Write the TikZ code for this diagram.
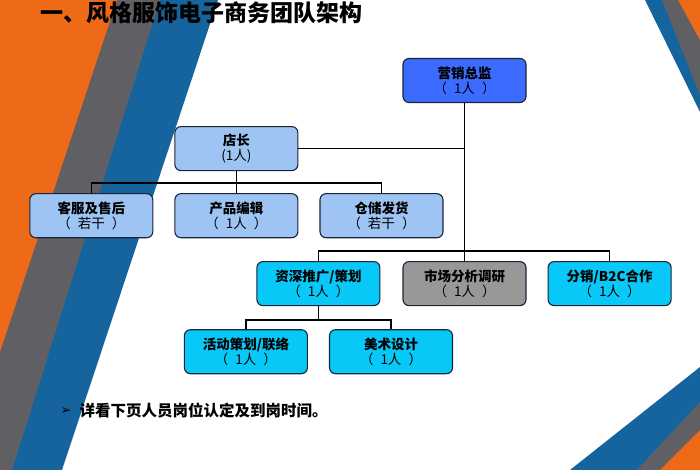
\documentclass[tikz,border=0pt]{standalone}
\usepackage{fontspec}
\setmainfont{Noto Sans CJK SC}
\newfontfamily\symfont{DejaVu Sans}
\usetikzlibrary{positioning}

\definecolor{stripeorange}{RGB}{238,106,24}
\definecolor{stripegrey}{RGB}{96,96,100}
\definecolor{stripeblue}{RGB}{22,100,158}
\definecolor{headblue}{RGB}{60,108,255}
\definecolor{shopblue}{RGB}{157,196,242}
\definecolor{teamcyan}{RGB}{8,200,248}
\definecolor{teamgrey}{RGB}{152,152,152}
\definecolor{rim}{RGB}{28,36,56}

% head count in wide brackets
\newcommand{\headcount}[1]{（\hspace{7pt}#1\hspace{7pt}）}

\begin{document}
\begin{tikzpicture}[
    x=1pt, y=-1pt,
    font=\fontsize{13.5}{15}\selectfont,
    box/.style={draw=rim, line width=1.1pt, rounded corners=6pt, align=center, minimum width=123pt, minimum height=44pt, inner sep=0pt},
    line/.style={line width=1.5pt},
  ]
    \useasboundingbox (0,0) rectangle (700,470);
    % background stripes
    \fill[white] (0,0) rectangle (700,470);
    \fill[stripeblue] (0,0) -- (218,0) -- (62,470) -- (0,470) -- cycle;
    \fill[stripegrey] (0,0) -- (160,0) -- (12,470) -- (0,470) -- cycle;
    \fill[stripeorange] (0,0) -- (117,0) -- (0,352) -- cycle;
    \fill[stripeblue] (645,0) -- (700,0) -- (700,112) -- cycle;
    \fill[stripegrey] (662,0) -- (700,0) -- (700,95) -- cycle;
    \fill[stripeorange] (678,0) -- (700,0) -- (700,40) -- cycle;
    \fill[stripeblue] (570,470) -- (700,367) -- (700,470) -- cycle;
    \fill[stripegrey] (637,470) -- (700,402) -- (700,470) -- cycle;
    \fill[stripeorange] (660,470) -- (700,430) -- (700,470) -- cycle;

    \node[anchor=base west, font=\fontsize{23}{23}\selectfont\bfseries] (title) at (37,22) {一、风格服饰电子商务团队架构};

    \node[box, fill=headblue] (dir) at (464.5,80.5) {\textbf{营销总监}\\\headcount{1人}};
    \node[box, fill=shopblue, below left=23pt and 104pt of dir] (shop) {\textbf{店长}\\(1人)};
    \node[box, fill=shopblue, below=22pt of shop] (prod) {\textbf{产品编辑}\\\headcount{1人}};
    \node[box, fill=shopblue, left=21pt of prod] (svc) {\textbf{客服及售后}\\\headcount{若干}};
    \node[box, fill=shopblue, right=21pt of prod] (ware) {\textbf{仓储发货}\\\headcount{若干}};
    \node[box, fill=teamgrey, below=158pt of dir] (mkt) {\textbf{市场分析调研}\\\headcount{1人}};
    \node[box, fill=teamcyan, left=22pt of mkt] (promo) {\textbf{资深推广/策划}\\\headcount{1人}};
    \node[box, fill=teamcyan, right=21pt of mkt] (dist) {\textbf{分销/B2C合作}\\\headcount{1人}};
    \node[box, fill=teamcyan, below=23pt of promo, xshift=-72.5pt] (act) {\textbf{活动策划/联络}\\\headcount{1人}};
    \node[box, fill=teamcyan, right=21pt of act] (art) {\textbf{美术设计}\\\headcount{1人}};

    \draw[line] (dir.south) -- (dir.south |- mkt.north);
    \draw[line] (shop.east) -- (shop.east -| dir.south);
    \draw[line] (shop.south) -- (prod.north);
    \draw[line] (shop.south) ++(0,12) -| (svc.north);
    \draw[line] (shop.south) ++(0,12) -| (ware.north);
    \draw[line] (promo.north) -- ++(0,-10) -| (dist.north);
    \draw[line] (promo.south) -- ++(0,14) -| (act.north);
    \draw[line] (promo.south) ++(0,14) -| (art.north);

    \node[font=\fontsize{13}{13}\symfont, text=black] (bullet) at (66,411) {➢};
    \node[anchor=west, font=\fontsize{15.5}{16}\selectfont\bfseries] (note) at (76,411) {详看下页人员岗位认定及到岗时间。};
  \end{tikzpicture}
\end{document}
